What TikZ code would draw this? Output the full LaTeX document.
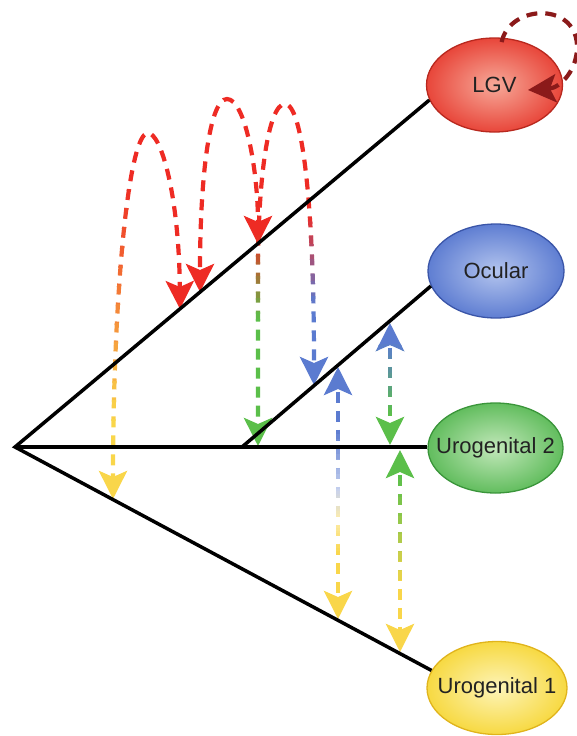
\documentclass[tikz,border=0pt]{standalone}
\usepackage{fontspec}
\setmainfont{Liberation Sans}
\usetikzlibrary{shapes.geometric,arrows.meta}
\definecolor{txt}{HTML}{222222}
\definecolor{lgvI}{HTML}{F7A999}
\definecolor{lgvO}{HTML}{E8463A}
\definecolor{lgvB}{HTML}{B8281E}
\definecolor{ocI}{HTML}{B3C4EE}
\definecolor{ocO}{HTML}{5F7ED2}
\definecolor{ocB}{HTML}{3A55A8}
\definecolor{ugtI}{HTML}{C2E8BA}
\definecolor{ugtO}{HTML}{62BD5E}
\definecolor{ugtB}{HTML}{3A953A}
\definecolor{ugoI}{HTML}{FDF4B8}
\definecolor{ugoO}{HTML}{F7D942}
\definecolor{ugoB}{HTML}{E0B41C}
\definecolor{dred}{HTML}{EE2B24}
\definecolor{dyel}{HTML}{F9D64A}
\definecolor{dgrn}{HTML}{5BBF4A}
\definecolor{dblu}{HTML}{5B7BD0}
\definecolor{dmar}{HTML}{8B1A1A}
\colorlet{pblu}{dblu!35!white}
\colorlet{pyel}{dyel!45!white}
\newcommand\lbl[1]{\makebox[0pt][c]{#1}}
\tikzset{
  bubble/.style={ellipse, minimum width=136pt, minimum height=94pt, line width=1.3pt,
    font=\fontsize{22}{26}\selectfont, text=txt, inner sep=0pt},
  tree/.style={line width=3.5pt, black},
  dl/.style={line width=4.2pt, dash pattern=on 11pt off 8pt, dash phase=15pt},
  >={Stealth[length=28pt,width=28pt,inset=6pt]},
}
% solid-colour band of a connector
\newcommand\sseg[5]{\begin{scope}\clip (-20,#3) rectangle (620,#4);\draw[dl,#2,#1] #5;\end{scope}}
% colour-gradient band of a connector
\newcommand\gseg[6]{\foreach \gi in {1,...,12}{%
  \pgfmathsetmacro\gya{#4+(#5-#4)*(\gi-1)/12-0.6}%
  \pgfmathsetmacro\gyb{#4+(#5-#4)*\gi/12+0.6}%
  \pgfmathsetmacro\gpc{100-(\gi-0.5)*100/12}%
  \colorlet{gtmp}{#2!\gpc!#3}%
  \begin{scope}\clip (-20,\gya) rectangle (620,\gyb);\draw[dl,gtmp,#1] #6;\end{scope}}}
\begin{document}
\begin{tikzpicture}[x=1pt,y=-1pt]
\useasboundingbox (0,0) rectangle (577,736);
% leaves
\node[bubble, draw=lgvB, inner color=lgvI, outer color=lgvO] (LGV) at (494.5,85) {\lbl{LGV}};
\node[bubble, draw=ocB, inner color=ocI, outer color=ocO] (OC) at (496,271) {\lbl{Ocular}};
\node[bubble, minimum width=135pt, minimum height=90pt, draw=ugtB, inner color=ugtI, outer color=ugtO] (UG2) at (495.5,448) {\lbl{Urogenital 2}};
\node[bubble, minimum width=140pt, minimum height=93pt, draw=ugoB, inner color=ugoI, outer color=ugoO] (UG1) at (497,688) {\lbl{Urogenital 1}};
% branch points and arrow ends
\coordinate (R) at (15,447);
\coordinate (O0) at (242,447);
\coordinate (a1) at (180,309);
\coordinate (p1t) at (148,133);
\coordinate (y1) at (113,499);
\coordinate (b1) at (200,292);
\coordinate (p2t) at (227,99);
\coordinate (b2) at (258,244);
\coordinate (p3t) at (285,104);
\coordinate (g3) at (258,446);
\coordinate (bl3) at (314,385);
\coordinate (c1) at (338,367);
\coordinate (c2) at (338,619);
\coordinate (d1) at (390,323);
\coordinate (d2) at (390,445);
\coordinate (e1) at (400,450);
\coordinate (e2) at (400,652);
\coordinate (loopS) at (501,46);
\coordinate (loopE) at (528,90);
% arc 1 : LGV branch <-> Urogenital 1 branch
\draw[dl,dred,->] (p1t) .. controls (161,133) and (179,195) .. (a1);
\sseg{->}{dred}{-20}{190.6}{(p1t) .. controls (128,133) and (113,300) .. (y1)}
\gseg{->}{dred}{dyel}{190}{420}{(p1t) .. controls (128,133) and (113,300) .. (y1)}
\sseg{->}{dyel}{419.4}{800}{(p1t) .. controls (128,133) and (113,300) .. (y1)}
% arc 2 : within LGV branch
\draw[dl,dred,<->] (b1) .. controls (200,180) and (209,99) .. (p2t) .. controls (245,99) and (258,170) .. (b2);
% arc 3 : Urogenital 2 branch <-> Ocular branch
\sseg{->}{dred}{-20}{235.6}{(p3t) .. controls (268,104) and (258,180) .. (258,270) -- (g3)}
\gseg{->}{dred}{dgrn}{235}{320}{(p3t) .. controls (268,104) and (258,180) .. (258,270) -- (g3)}
\sseg{->}{dgrn}{319.4}{800}{(p3t) .. controls (268,104) and (258,180) .. (258,270) -- (g3)}
\sseg{->}{dred}{-20}{215.6}{(p3t) .. controls (302,104) and (314,200) .. (bl3)}
\gseg{->}{dred}{dblu}{215}{305}{(p3t) .. controls (302,104) and (314,200) .. (bl3)}
\sseg{->}{dblu}{304.4}{800}{(p3t) .. controls (302,104) and (314,200) .. (bl3)}
% Ocular <-> Urogenital 1
\sseg{<->}{dblu}{-20}{430.6}{(c1) -- (c2)}
\gseg{<->}{dblu}{pblu}{430}{490}{(c1) -- (c2)}
\gseg{<->}{pblu}{pyel}{490}{520}{(c1) -- (c2)}
\gseg{<->}{pyel}{dyel}{520}{555}{(c1) -- (c2)}
\sseg{<->}{dyel}{554.4}{800}{(c1) -- (c2)}
% Ocular <-> Urogenital 2
\sseg{<->}{dblu}{-20}{345.6}{(d1) -- (d2)}
\gseg{<->}{dblu}{dgrn}{345}{415}{(d1) -- (d2)}
\sseg{<->}{dgrn}{414.4}{800}{(d1) -- (d2)}
% Urogenital 2 <-> Urogenital 1
\sseg{<->}{dgrn}{-20}{480.6}{(e1) -- (e2)}
\gseg{<->}{dgrn}{dyel}{480}{590}{(e1) -- (e2)}
\sseg{<->}{dyel}{589.4}{800}{(e1) -- (e2)}
% tree
\draw[tree, line join=miter] (LGV.193) -- (R) -- (UG1.165);
\draw[tree] (R) -- (R -| UG2.west);
\draw[tree] (O0) -- (OC.193);
% LGV self loop
\draw[dl,dmar,->] (loopS) .. controls (505,5) and (575,0) .. (577,45) .. controls (578,70) and (560,88) .. (loopE);
\end{tikzpicture}
\end{document}
